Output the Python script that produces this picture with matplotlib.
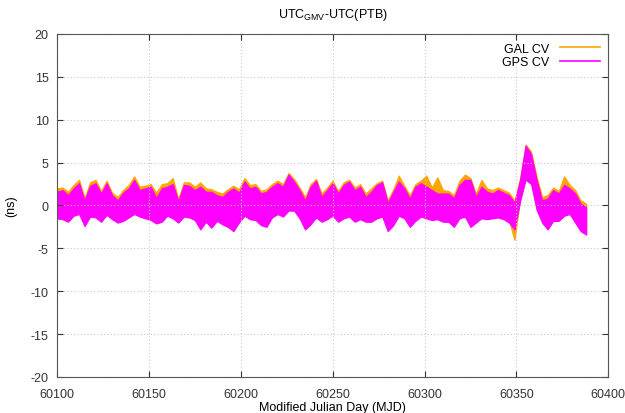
import matplotlib.pyplot as plt

plt.rcParams['font.family'] = ['Liberation Sans', 'DejaVu Sans']
plt.rcParams['axes.unicode_minus'] = False

# MJD sample points (every 3 days) and envelope of the noisy CV series
mjd = [60100 + 3 * i for i in range(97)]

gps_hi = [1.6, 1.8, 1.2, 2.0, 2.6, 0.6, 2.3, 2.6, 1.4, 2.6,
          1.2, 0.6, 1.5, 2.0, 3.0, 1.8, 2.0, 2.2, 0.9, 2.0,
          2.2, 2.5, 0.5, 2.4, 2.3, 1.8, 2.2, 1.6, 1.6, 1.2,
          1.0, 1.6, 2.0, 1.5, 2.8, 2.0, 2.2, 1.4, 1.6, 2.2,
          2.6, 2.2, 3.6, 2.8, 1.8, 0.6, 2.2, 2.9, 1.0, 1.8,
          2.6, 1.4, 2.4, 2.8, 1.8, 2.2, 1.0, 1.6, 2.4, 2.7,
          0.3, 1.6, 2.8, 2.0, 0.8, 2.2, 2.6, 2.2, 1.8, 1.4,
          1.4, 1.4, 0.85, 2.4, 3.0, 3.0, 1.0, 2.2, 1.6, 1.4,
          1.8, 1.5, 1.2, 0.3, 3.0, 7.0, 6.0, 3.0, 0.6, 0.8,
          1.8, 1.4, 2.4, 2.0, 1.4, 0.2, -0.2]
gps_lo = [-1.5, -1.6, -1.9, -1.2, -1.0, -2.4, -1.3, -1.4, -1.9, -1.1,
          -1.6, -2.0, -1.8, -1.4, -1.0, -1.3, -1.5, -1.7, -2.1, -1.9,
          -1.2, -1.5, -2.0, -1.3, -1.4, -1.7, -2.8, -1.9, -2.6, -1.8,
          -2.2, -2.5, -3.0, -2.0, -1.2, -1.6, -1.7, -2.3, -2.5, -1.4,
          -1.0, -1.3, -0.6, -0.6, -1.5, -2.8, -2.2, -1.4, -1.9, -1.6,
          -1.2, -1.9, -1.5, -1.3, -1.9, -1.6, -1.9, -1.9, -1.5, -1.3,
          -3.0, -2.3, -1.2, -1.5, -2.5, -1.8, -1.3, -1.5, -1.7, -1.6,
          -1.9, -1.9, -2.5, -1.5, -1.3, -2.5, -2.0, -1.5, -1.6, -1.5,
          -1.4, -1.6, -2.0, -2.8, 0.5, 3.0, 2.5, -0.5, -2.0, -2.8,
          -1.8, -1.8, -1.2, -1.0, -2.0, -3.0, -3.4]
gal_hi = [2.0, 2.1, 1.6, 2.4, 3.0, 0.9, 2.7, 3.0, 1.7, 2.9,
          1.5, 1.0, 1.8, 2.4, 3.4, 2.2, 2.3, 2.5, 1.5, 2.5,
          2.6, 3.2, 0.8, 2.7, 2.7, 2.2, 2.7, 2.0, 1.9, 1.6,
          1.4, 1.9, 2.3, 1.9, 3.2, 2.4, 2.5, 1.7, 1.9, 2.5,
          2.9, 2.5, 3.8, 3.1, 2.1, 1.0, 2.5, 3.1, 1.4, 2.1,
          2.9, 1.7, 2.7, 3.0, 2.1, 2.5, 1.4, 2.0, 2.6, 2.9,
          0.6, 1.9, 3.5, 2.3, 1.2, 2.5, 2.9, 3.5, 2.1, 3.3,
          1.8, 1.7, 1.2, 2.9, 3.6, 3.2, 1.4, 3.0, 2.0, 1.8,
          2.1, 1.8, 1.5, 0.6, 3.2, 7.1, 6.3, 3.4, 1.0, 1.2,
          2.1, 1.7, 3.4, 2.4, 1.8, 0.6, 0.2]
gal_lo = [-1.3, -1.4, -1.7, -1.0, -0.8, -2.2, -1.1, -1.2, -1.7, -0.9,
          -1.4, -1.8, -1.6, -1.2, -0.8, -1.1, -1.3, -1.5, -1.9, -1.7,
          -1.0, -1.3, -1.8, -1.1, -1.2, -1.5, -2.5, -1.7, -2.4, -1.6,
          -2.0, -2.3, -2.8, -1.8, -1.0, -1.4, -1.5, -2.1, -2.3, -1.2,
          -0.8, -1.1, -0.4, -0.4, -1.3, -2.6, -2.0, -1.2, -1.7, -1.4,
          -1.0, -1.7, -1.3, -1.1, -1.7, -1.4, -1.7, -1.7, -1.3, -1.1,
          -2.8, -2.1, -1.0, -1.3, -2.3, -1.6, -1.1, -1.3, -1.5, -1.4,
          -1.7, -1.7, -2.3, -1.3, -1.1, -2.3, -1.8, -1.3, -1.4, -1.3,
          -1.2, -1.4, -1.8, -4.0, 0.7, 3.2, 2.7, -0.3, -1.8, -2.6,
          -1.6, -1.6, -1.0, -0.8, -1.8, -2.8, -3.2]

fig = plt.figure(figsize=(6.25, 4.14), dpi=100)
ax = fig.add_axes([0.0912, 0.087, 0.882, 0.8285])

ax.fill_between(mjd, gal_lo, gal_hi, color='#FFA500', lw=0.8)
ax.fill_between(mjd, gps_lo, gps_hi, color='#FF00FF', lw=0.8)
ax.plot([], [], color='#FFA500', lw=1.2, label='GAL CV')
ax.plot([], [], color='#FF00FF', lw=1.2, label='GPS CV')

ax.set_xlim(60100, 60400)
ax.set_ylim(-20, 20)
ax.set_xticks(range(60100, 60401, 50))
ax.set_yticks(range(-20, 21, 5))
ax.grid(True, color='#c8c8c8', linestyle=(0, (1, 2)), lw=0.8)
ax.tick_params(direction='in', top=True, right=True, labelsize=9,
               colors='#333333', length=4)
ax.tick_params(axis='x', pad=8)
ax.tick_params(axis='y', pad=6)
for s in ax.spines.values():
    s.set_color('#555555')
    s.set_linewidth(0.8)

ax.set_title('UTC$_{\\mathregular{GMV}}$-UTC(PTB)', fontsize=9, pad=12)
ax.set_xlabel('Modified Julian Day (MJD)', fontsize=9)
ax.xaxis.set_label_coords(0.5, -0.07)
ax.set_ylabel('(ns)', fontsize=9, labelpad=10)
ax.legend(loc='upper right', frameon=False, markerfirst=False, fontsize=9,
          handlelength=3.2, borderaxespad=0.3, labelspacing=0.1)

fig.savefig('out.png', dpi=100)
